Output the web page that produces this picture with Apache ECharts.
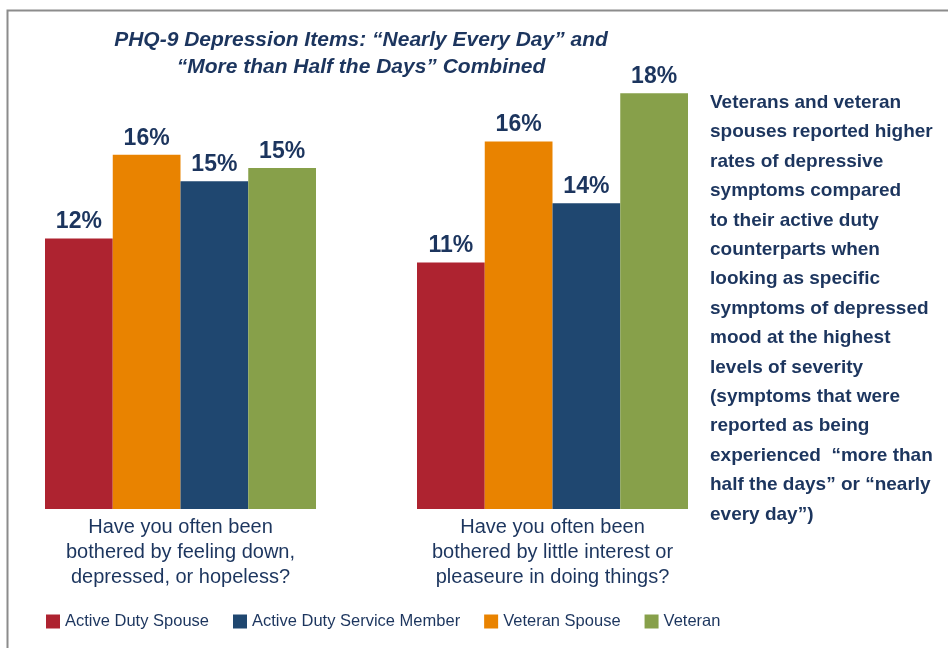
<!DOCTYPE html>
<html>
<head>
<meta charset="utf-8">
<script src="https://cdn.jsdelivr.net/npm/echarts@6/dist/echarts.min.js"></script>
<style>
    html, body {margin: 0; padding: 0; background: #fff;}
    #main {width: 948px; height: 648px;}
</style>
</head>
<body>
<div id="main"></div>
<script>
var categories = [
    'Have you often been\nbothered by feeling down,\ndepressed, or hopeless?',
    'Have you often been\nbothered by little interest or\npleaseure in doing things?'
];
var seriesNames  = ['Active Duty Spouse', 'Veteran Spouse', 'Active Duty Service Member', 'Veteran'];
var legendOrder  = ['Active Duty Spouse', 'Active Duty Service Member', 'Veteran Spouse', 'Veteran'];

var activeSpouse  = [12.3, 11.2];
var veteranSpouse = [16.1, 16.7];
var activeMember  = [14.9, 13.9];
var veteran       = [15.5, 18.9];

var activeSpouseLabels  = ['12%', '11%'];
var veteranSpouseLabels = ['16%', '16%'];
var activeMemberLabels  = ['15%', '14%'];
var veteranLabels       = ['15%', '18%'];

var colors   = ['#AE2330', '#E98300', '#1F4770', '#87A04A'];
var navy     = '#1C355E';
var fontName = '"Liberation Sans", Arial, sans-serif';

var sideNote = [
    'Veterans and veteran',
    'spouses reported higher',
    'rates of depressive',
    'symptoms compared',
    'to their active duty',
    'counterparts when',
    'looking as specific',
    'symptoms of depressed',
    'mood at the highest',
    'levels of severity',
    '(symptoms that were',
    'reported as being',
    'experienced  \u201cmore than',
    'half the days\u201d or \u201cnearly',
    'every day\u201d)'
].join('\n');

function makeSeries(name, values, labels, color)
{
    return {
        name: name,
        type: 'bar',
        clip: false,
        barWidth: 67.75,
        barGap: '0%',
        itemStyle: {color: color},
        label: {
            show: true,
            position: 'top',
            distance: 5,
            color: navy,
            fontFamily: fontName,
            fontWeight: 'bold',
            fontSize: 23,
            formatter: function(p) { return labels[p.dataIndex]; }
        },
        data: values
    };
}

var chart  = echarts.init(document.getElementById('main'));
var option = {
    animation: false,
    backgroundColor: '#fff',
    textStyle: {fontFamily: fontName},
    title: [
        {
            text: 'PHQ-9 Depression Items: \u201cNearly Every Day\u201d and\n\u201cMore than Half the Days\u201d Combined',
            left: 361,
            top: 27,
            padding: 0,
            textAlign: 'center',
            textStyle: {
                color: navy,
                fontFamily: fontName,
                fontStyle: 'italic',
                fontWeight: 'bold',
                fontSize: 21,
                lineHeight: 27
            }
        },
        {
            text: sideNote,
            left: 710,
            top: 88,
            padding: 0,
            textStyle: {
                color: navy,
                fontFamily: fontName,
                fontWeight: 'bold',
                fontSize: 19,
                lineHeight: 29.4
            }
        }
    ],
    legend: {
        data: legendOrder,
        left: 41,
        top: 608,
        icon: 'rect',
        itemWidth: 14,
        itemHeight: 14,
        itemGap: 24,
        textStyle: {color: navy, fontFamily: fontName, fontSize: 16.5}
    },
    /* categories sit on the ticks, so the grid spans centre to centre */
    grid: {left: 180.5, width: 372, top: 69, bottom: 139},
    xAxis: {
        type: 'category',
        boundaryGap: false,
        data: categories,
        axisLine: {show: false},
        axisTick: {show: false},
        axisLabel: {
            margin: 6,
            color: navy,
            fontFamily: fontName,
            fontSize: 20,
            lineHeight: 25
        }
    },
    yAxis: {
        type: 'value',
        min: 0,
        max: 20,
        show: false,
        splitLine: {show: false}
    },
    series: [
        makeSeries(seriesNames[0], activeSpouse, activeSpouseLabels, colors[0]),
        makeSeries(seriesNames[1], veteranSpouse, veteranSpouseLabels, colors[1]),
        makeSeries(seriesNames[2], activeMember, activeMemberLabels, colors[2]),
        makeSeries(seriesNames[3], veteran, veteranLabels, colors[3])
    ],
    graphic: [
        {
            type: 'polyline',
            silent: true,
            shape: {points: [[7.5, 648], [7.5, 10.5], [948, 10.5]]},
            style: {fill: null, stroke: '#8c8c8c', lineWidth: 2}
        }
    ]
};
chart.setOption(option);
</script>
</body>
</html>
